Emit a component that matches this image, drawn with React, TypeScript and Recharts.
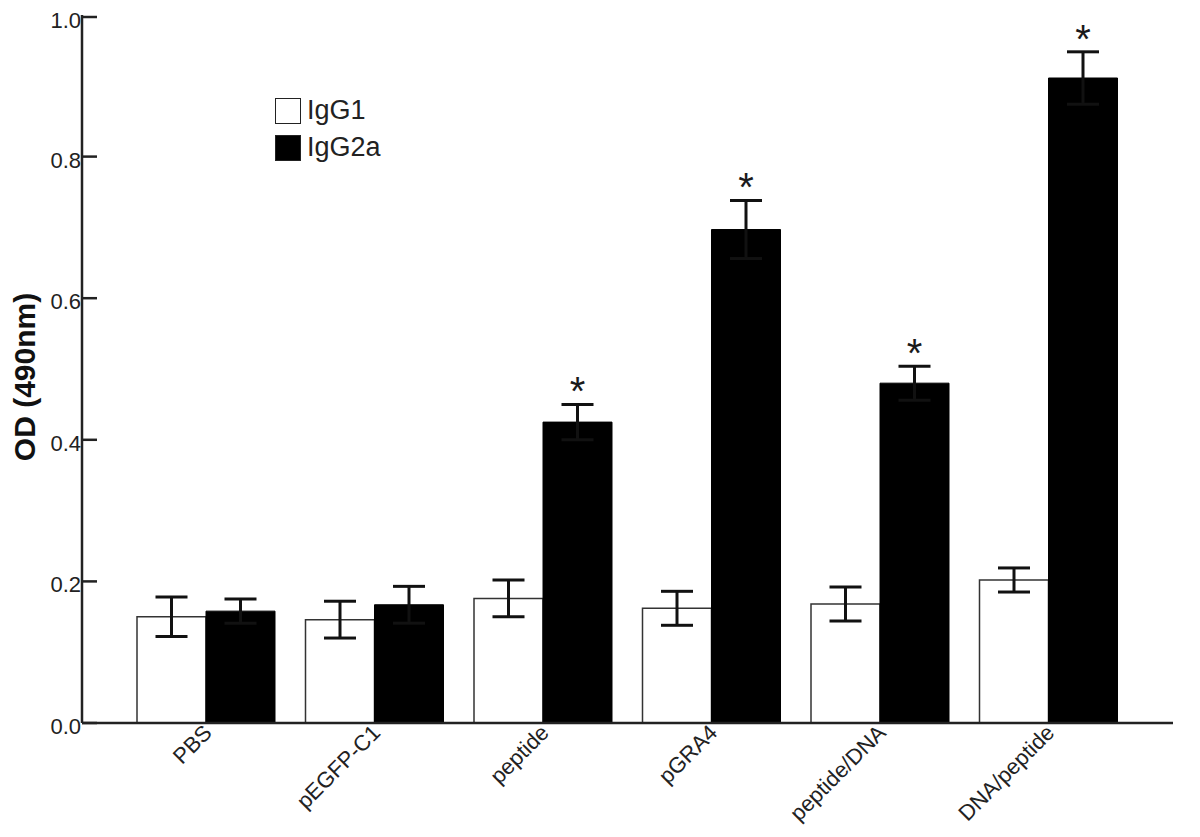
import { Bar, BarChart, ErrorBar, LabelList, Legend, XAxis, YAxis } from "recharts";

const categories = ["PBS", "pEGFP-C1", "peptide", "pGRA4", "peptide/DNA", "DNA/peptide"];
const igg1 = [0.15, 0.146, 0.176, 0.162, 0.168, 0.202];
const igg1Err = [0.028, 0.026, 0.026, 0.024, 0.024, 0.017];
const igg2a = [0.158, 0.167, 0.425, 0.697, 0.48, 0.911];
const igg2aErr = [0.017, 0.026, 0.025, 0.041, 0.024, 0.037];
const significant = [false, false, true, true, true, true];
const yTicks = [0, 0.2, 0.4, 0.6, 0.8, 1.0];

const data = categories.map((name, i) => ({
  name,
  igg1: igg1[i],
  igg1Err: igg1Err[i],
  igg2a: igg2a[i],
  igg2aErr: igg2aErr[i],
}));

const FONT = "'Liberation Sans', Arial, sans-serif";

function YTick({ x, y, payload }: any) {
  return (
    <g>
      <line x1={x} x2={x + 15} y1={y} y2={y} stroke="#222" strokeWidth={2.5} />
      <text x={x - 1} y={y} dy={11} textAnchor="end" fontSize={22} fill="#222" fontFamily={FONT}>
        {Number(payload.value).toFixed(1)}
      </text>
    </g>
  );
}

function XTick({ x, y, payload }: any) {
  const tx = x + 7;
  const ty = y + 11;
  return (
    <text
      x={tx}
      y={ty}
      transform={`rotate(-45 ${tx} ${ty})`}
      textAnchor="end"
      fontSize={22}
      fill="#222"
      fontFamily={FONT}
    >
      {payload.value}
    </text>
  );
}

// asterisk above the error bar of significant IgG2a groups
function Star(props: any) {
  const { x, y, width, height, value, index } = props;
  if (!significant[index]) return null;
  const top = y - (igg2aErr[index] * height) / value;
  return (
    <text x={x + width / 2} y={top + 1} textAnchor="middle" fontSize={40} fill="#1a1a1a" fontFamily={FONT}>
      *
    </text>
  );
}

function LegendBox() {
  const items = [
    { label: "IgG1", fill: "#fff" },
    { label: "IgG2a", fill: "#000" },
  ];
  return (
    <div style={{ fontFamily: FONT, fontSize: 27, color: "#222" }}>
      {items.map((it) => (
        <div key={it.label} style={{ display: "flex", alignItems: "center", height: 37 }}>
          <span
            style={{
              display: "inline-block",
              width: 24,
              height: 24,
              background: it.fill,
              border: "1.5px solid #222",
              marginRight: 6,
            }}
          />
          {it.label}
        </div>
      ))}
    </div>
  );
}

export default function App() {
  return (
    <BarChart
      width={1184}
      height={821}
      data={data}
      margin={{ top: 7, right: 19, left: 0, bottom: 0 }}
      barGap={0}
      barCategoryGap={15}
    >
      <XAxis
        dataKey="name"
        padding={{ left: 40, right: 40 }}
        height={106}
        axisLine={{ stroke: "#222", strokeWidth: 2.5 }}
        tickLine={false}
        tickSize={0}
        tickMargin={0}
        interval={0}
        tick={<XTick />}
      />
      <YAxis
        width={74}
        domain={[0, 1]}
        ticks={yTicks}
        axisLine={{ stroke: "#222", strokeWidth: 2.5 }}
        tickLine={false}
        tickSize={0}
        tickMargin={0}
        tick={<YTick />}
        label={{
          content: (p: any) => {
            const vb = p.viewBox || { x: 0, y: 7, height: 708 };
            const cx = vb.x + 27;
            const cy = vb.y + vb.height / 2 + 8;
            return (
              <text
                x={cx}
                y={cy}
                transform={`rotate(-90 ${cx} ${cy})`}
                textAnchor="middle"
                fontSize={30}
                fontWeight="bold"
                fill="#111"
                fontFamily={FONT}
              >
                OD (490nm)
              </text>
            );
          },
        }}
      />
      <Legend
        layout="vertical"
        align="center"
        verticalAlign="middle"
        wrapperStyle={{ left: 267, top: 84, width: "auto" }}
        content={<LegendBox />}
      />
      <Bar dataKey="igg1" name="IgG1" fill="#fff" stroke="#333" strokeWidth={1.5} isAnimationActive={false}>
        <ErrorBar dataKey="igg1Err" width={16} strokeWidth={3} stroke="#111" direction="y" />
      </Bar>
      <Bar dataKey="igg2a" name="IgG2a" fill="#000" stroke="#000" isAnimationActive={false}>
        <ErrorBar dataKey="igg2aErr" width={16} strokeWidth={3} stroke="#111" direction="y" />
        <LabelList dataKey="igg2a" content={<Star />} />
      </Bar>
    </BarChart>
  );
}
